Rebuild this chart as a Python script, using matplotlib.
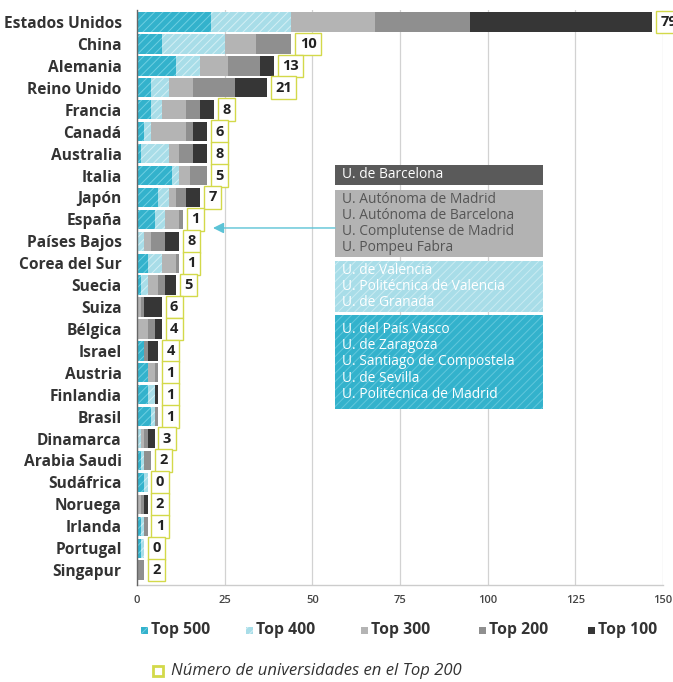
import matplotlib
matplotlib.use("Agg")
import matplotlib.pyplot as plt
from matplotlib.patches import Rectangle
import numpy as np

plt.rcParams['font.family'] = ['Open Sans', 'DejaVu Sans']
plt.rcParams['hatch.linewidth'] = 0.7

countries = ["Estados Unidos", "China", "Alemania", "Reino Unido", "Francia", "Canadá",
             "Australia", "Italia", "Japón", "España", "Países Bajos", "Corea del Sur",
             "Suecia", "Suiza", "Bélgica", "Israel", "Austria", "Finlandia", "Brasil",
             "Dinamarca", "Arabia Saudi", "Sudáfrica", "Noruega", "Irlanda", "Portugal",
             "Singapur"]

top500 = [21, 7, 11, 4, 4, 2, 1, 10, 6, 5, 0, 3, 1, 0, 0, 2, 3, 3, 4, 0, 1, 2, 0, 1, 1, 0]
top400 = [23, 18, 7, 5, 3, 2, 8, 2, 3, 3, 2, 4, 2, 0, 0, 0, 0, 2, 1, 1, 1, 1, 0, 1, 1, 0]
top300 = [24, 9, 8, 7, 7, 10, 3, 3, 2, 4, 2, 4, 3, 1, 3, 0, 2, 0, 0, 1, 0, 0, 1, 0, 0, 0]
top200 = [27, 10, 9, 12, 4, 2, 4, 5, 3, 1, 4, 1, 2, 1, 2, 1, 1, 0, 1, 1, 2, 0, 1, 1, 0, 2]
top100 = [52, 0, 4, 9, 4, 4, 4, 0, 4, 0, 4, 0, 3, 5, 2, 3, 0, 1, 0, 2, 0, 0, 1, 0, 0, 0]

labels_top200 = [79, 10, 13, 21, 8, 6, 8, 5, 7, 1, 8, 1, 5, 6, 4, 4, 1, 1, 1, 3, 2, 0, 2, 1, 0, 2]

series_names = ["Top 500", "Top 400", "Top 300", "Top 200", "Top 100"]
series_values = [top500, top400, top300, top200, top100]
x_ticks = [0, 25, 50, 75, 100, 125, 150]

spain_groups = [
    ["U. de Barcelona"],
    ["U. Autónoma de Madrid", "U. Autónoma de Barcelona",
     "U. Complutense de Madrid", "U. Pompeu Fabra"],
    ["U. de Valencia", "U. Politécnica de Valencia", "U. de Granada"],
    ["U. del País Vasco", "U. de Zaragoza", "U. Santiago de Compostela",
     "U. de Sevilla", "U. Politécnica de Madrid"],
]

face = ["#33b2cc", "#a8dde8", "#b4b4b4", "#8f8f8f", "#363636"]
hatchc = ["#6fcfe2", "#d4eff5", "#c2c2c2", "#9c9c9c", "#454545"]
hatches = ["////", "////", None, None, None]

fig = plt.figure(figsize=(6.73, 6.82), dpi=100)
ax = fig.add_axes([137/673, 1-585/682, 526/673, 575/682])

y = np.arange(len(countries))
left = np.zeros(len(countries))
for vals, fc, hc, h in zip(series_values, face, hatchc, hatches):
    vals = np.array(vals, dtype=float)
    ax.barh(y, vals, left=left, height=0.88, color=fc, edgecolor=hc if h else fc,
            hatch=h, linewidth=0, zorder=3)
    left += vals

for i, (tot, lab) in enumerate(zip(left, labels_top200)):
    ax.annotate(str(lab), xy=(tot, i), xytext=(6, 0), textcoords='offset points',
                ha='left', va='center', fontsize=10.5, fontweight='bold', color='#222222',
                bbox=dict(boxstyle='square,pad=0.3', fc='white', ec='#d3d94a', lw=1.0),
                zorder=5, annotation_clip=False)

ax.set_xlim(0, 150)
ax.set_ylim(25.68, -0.55)
ax.set_xticks(x_ticks)
ax.set_xticklabels([str(t) for t in x_ticks], fontsize=8, color='#444444', fontweight='semibold')
ax.set_yticks(y)
ax.set_yticklabels(countries, fontsize=11.2, fontweight='bold', color='#333333')
ax.tick_params(axis='y', length=0, pad=11)
ax.tick_params(axis='x', length=0, pad=7)
ax.grid(axis='x', color='#d2d2d2', lw=0.9, zorder=0)
ax.set_axisbelow(True)
for s in ['top', 'right']:
    ax.spines[s].set_visible(False)
ax.spines['left'].set_color('#666666')
ax.spines['left'].set_linewidth(1.0)
ax.spines['left'].set_zorder(4)
ax.spines['bottom'].set_color('#cccccc')
ax.spines['bottom'].set_linewidth(1.0)

# Spain annotation blocks
x0, x1 = 0.3764, 0.7719
blocks = [(0.6957, 0.7304), (0.5704, 0.6870), (0.4748, 0.5635), (0.3061, 0.4696)]
bcol = ["#5a5a5a", "#b3b3b3", "#a8dde8", "#33b2cc"]
bhc = [None, None, "#c9ebf2", "#62c7dc"]
tcol = ["white", "#555555", "white", "white"]
for (yb, yt), c, hc, tc, names in zip(blocks, bcol, bhc, tcol, spain_groups):
    ax.add_patch(Rectangle((x0, yb), x1 - x0, yt - yb, transform=ax.transAxes,
                           facecolor=c, edgecolor=hc if hc else c, hatch='////' if hc else None,
                           linewidth=0, zorder=6, clip_on=False))
    ax.text(0.3897, (yb + yt) / 2, "\n".join(names), transform=ax.transAxes,
            ha='left', va='center', fontsize=9.9, color=tc, linespacing=1.1, zorder=7)

ax.annotate('', xy=(0.1445, 0.6209), xytext=(0.3764, 0.6209), xycoords='axes fraction',
            arrowprops=dict(arrowstyle='-|>', color='#5cc3d6', lw=1.0, mutation_scale=16,
                            shrinkA=0, shrinkB=0), zorder=6)

# Legend
leg_x = [141, 246, 361, 479, 588]
for xp, name, fc, hc, h in zip(leg_x, series_names, face, hatchc, hatches):
    fig.patches.append(Rectangle((xp/673, 1-634/682), 7/673, 7/682, transform=fig.transFigure,
                                 facecolor=fc, edgecolor=hc if h else fc, hatch=h, linewidth=0))
    fig.text((xp+10)/673, 1-630/682, name, ha='left', va='center', fontsize=11.3,
             fontweight='bold', color='#333333')

fig.patches.append(Rectangle((153/673, 1-676/682), 10/673, 10/682, transform=fig.transFigure,
                             facecolor='white', edgecolor='#d3d94a', linewidth=2))
fig.text(171/673, 1-671/682, "Número de universidades en el Top 200", ha='left', va='center',
         fontsize=12, style='italic', color='#333333')

fig.savefig("out.png", dpi=100, facecolor='white')
